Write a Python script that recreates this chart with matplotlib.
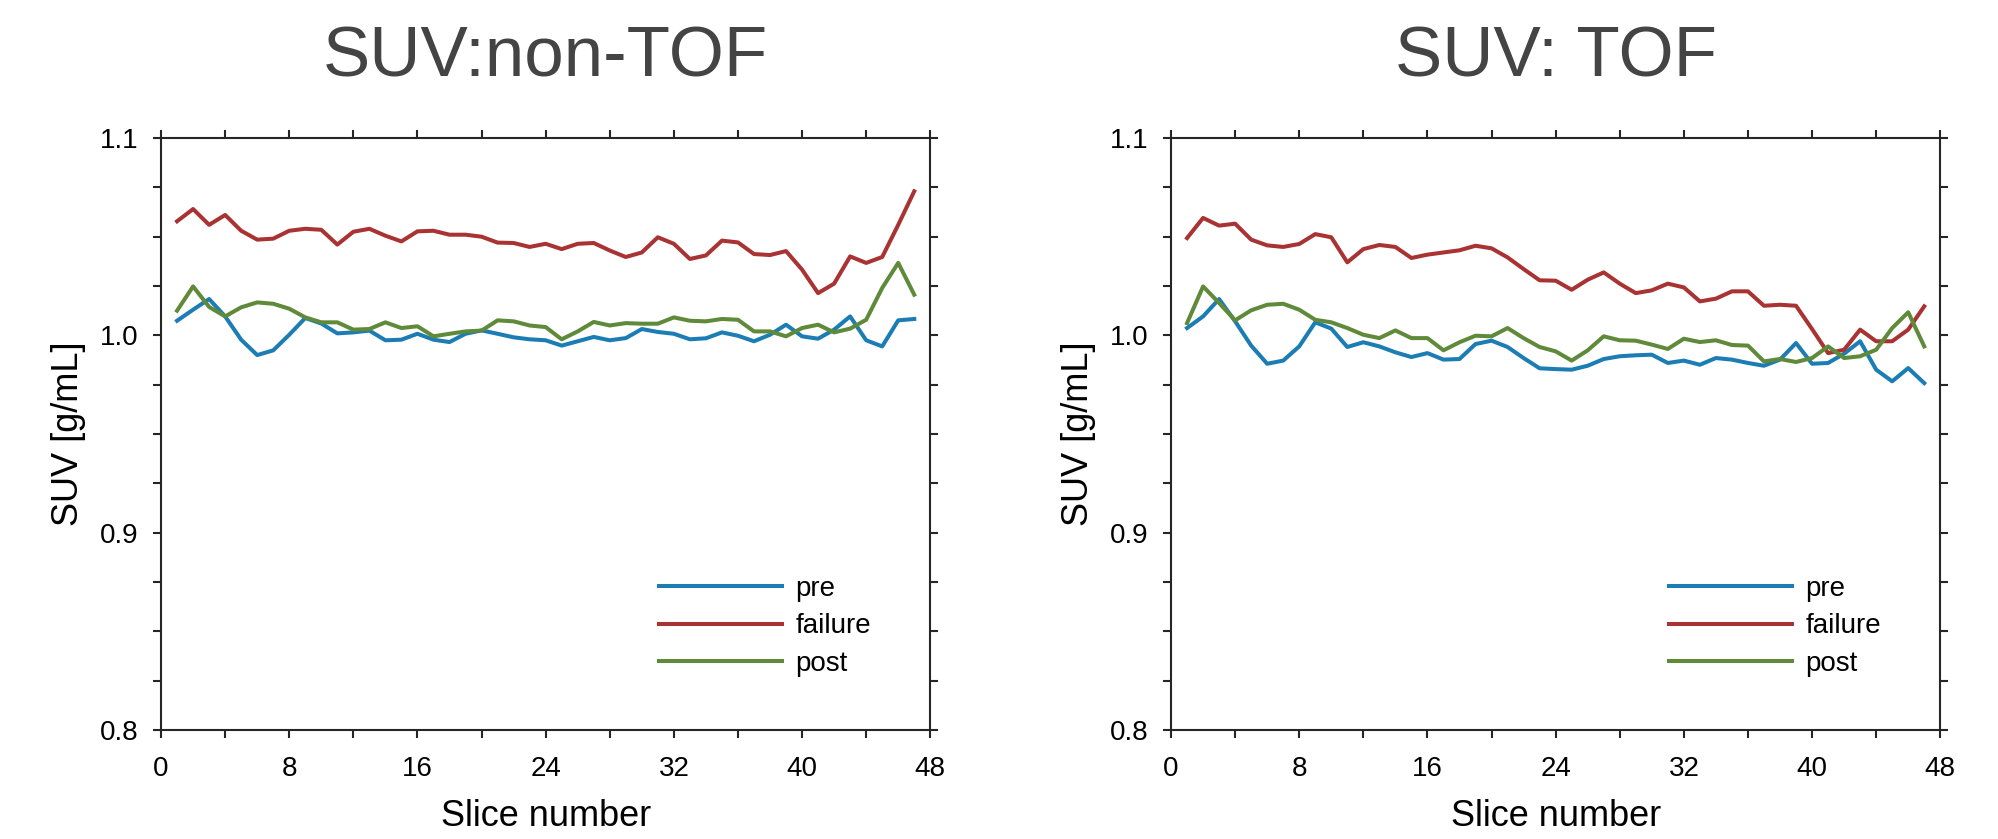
import numpy as np
import matplotlib
matplotlib.use("Agg")
import matplotlib.pyplot as plt
from matplotlib.ticker import MultipleLocator

# valores (fatia 1..47)
slices = np.arange(1, 48)

pre_ntof = [1.0074, 1.013, 1.0184, 1.0096, 0.9978, 0.990, 0.9924, 1.0003, 1.0088, 1.006,
            1.001, 1.0015, 1.0024, 0.9975, 0.9978, 1.0008, 0.9978, 0.9966, 1.0008, 1.0025,
            1.0008, 0.999, 0.998, 0.9975, 0.9948, 0.997, 0.9992, 0.9975, 0.9986, 1.0032,
            1.0017, 1.0008, 0.998, 0.9985, 1.0015, 0.9998, 0.997, 1.0003, 1.0054, 0.9995,
            0.9983, 1.0029, 1.0096, 0.9975, 0.9944, 1.0076, 1.0083]
failure_ntof = [1.0578, 1.064, 1.056, 1.061, 1.053, 1.0485, 1.049, 1.053, 1.054, 1.0535,
                1.046, 1.0525, 1.054, 1.0505, 1.0476, 1.0527, 1.053, 1.051, 1.051, 1.050,
                1.047, 1.0468, 1.0448, 1.0464, 1.0437, 1.0464, 1.0468, 1.043, 1.0397, 1.042,
                1.0497, 1.0464, 1.0387, 1.0405, 1.048, 1.0471, 1.0412, 1.0407, 1.0427, 1.0333,
                1.0214, 1.0262, 1.040, 1.0367, 1.0397, 1.056, 1.073]
post_ntof = [1.0125, 1.0248, 1.0144, 1.0096, 1.0142, 1.0167, 1.016, 1.0135, 1.0091, 1.0066,
             1.0066, 1.0029, 1.0032, 1.0066, 1.0037, 1.0046, 0.9995, 1.0008, 1.002, 1.0024,
             1.0076, 1.0071, 1.005, 1.0042, 0.998, 1.002, 1.0068, 1.005, 1.0062, 1.0059,
             1.0059, 1.0091, 1.0074, 1.0071, 1.0083, 1.0079, 1.002, 1.002, 0.9995, 1.0037,
             1.0054, 1.0015, 1.0034, 1.0079, 1.024, 1.0367, 1.0206]

pre_tof = [1.0037, 1.0096, 1.0184, 1.0071, 0.9948, 0.9856, 0.9872, 0.9944, 1.0066, 1.0034,
           0.9941, 0.9965, 0.9944, 0.9914, 0.989, 0.991, 0.9877, 0.988, 0.9956, 0.9973,
           0.9941, 0.9885, 0.9833, 0.9829, 0.9826, 0.9846, 0.988, 0.9894, 0.9899, 0.9902,
           0.986, 0.9872, 0.9851, 0.9885, 0.9877, 0.986, 0.9846, 0.9877, 0.9961, 0.9856,
           0.986, 0.9907, 0.997, 0.9826, 0.9767, 0.9834, 0.9758]
failure_tof = [1.0493, 1.0595, 1.0556, 1.0566, 1.0485, 1.0456, 1.0448, 1.0463, 1.0513, 1.0497,
               1.037, 1.0437, 1.0458, 1.0448, 1.0392, 1.0409, 1.042, 1.0431, 1.0454, 1.0441,
               1.0395, 1.0336, 1.0279, 1.0277, 1.0231, 1.0282, 1.0319, 1.0262, 1.0214, 1.0228,
               1.0262, 1.0243, 1.0172, 1.0186, 1.0223, 1.0223, 1.015, 1.0155, 1.015, 1.0032,
               0.991, 0.9927, 1.0029, 0.997, 0.997, 1.0029, 1.0147]
post_tof = [1.0062, 1.0248, 1.0164, 1.0076, 1.0127, 1.0155, 1.016, 1.013, 1.0079, 1.0066,
            1.0037, 1.0003, 0.9986, 1.0025, 0.9986, 0.9986, 0.9924, 0.9965, 0.9998, 0.9995,
            1.0037, 0.9986, 0.9941, 0.9919, 0.9872, 0.9924, 0.9995, 0.9975, 0.9973, 0.9953,
            0.9931, 0.9983, 0.9966, 0.9975, 0.9951, 0.9948, 0.9868, 0.988, 0.9865, 0.9885,
            0.9944, 0.9885, 0.9894, 0.9927, 1.0037, 1.0117, 0.9944]

labels = ["pre", "failure", "post"]
cores = ["#1b7db3", "#a93333", "#5f8a3a"]
titulos = ["SUV:non-TOF", "SUV: TOF"]

plt.rcParams['font.family'] = ['Liberation Sans', 'DejaVu Sans']

fig = plt.figure(figsize=(19.98, 8.39), dpi=100)
ax1 = fig.add_axes([0.0806, 0.1299, 0.3850, 0.7056])
ax2 = fig.add_axes([0.5861, 0.1299, 0.3850, 0.7056])

dados = [[pre_ntof, failure_ntof, post_ntof], [pre_tof, failure_tof, post_tof]]

for ax, series, titulo in zip([ax1, ax2], dados, titulos):
    for y, lab, c in zip(series, labels, cores):
        ax.plot(slices, y, color=c, lw=2.9, label=lab)

    ax.set_xlim(0, 48)
    ax.set_ylim(0.8, 1.1)
    ax.xaxis.set_major_locator(MultipleLocator(8))
    ax.xaxis.set_minor_locator(MultipleLocator(4))
    ax.yaxis.set_major_locator(MultipleLocator(0.1))
    ax.yaxis.set_minor_locator(MultipleLocator(0.025))
    ax.set_yticklabels([f"{v:.1f}" for v in ax.get_yticks()])

    for s in ax.spines.values():
        s.set_linewidth(1.5)
        s.set_color("#262626")
    ax.tick_params(which='both', direction='out', top=True, right=True,
                   length=6, width=1.5, color="#262626", labelsize=20)
    ax.tick_params(axis='x', pad=13)
    ax.tick_params(axis='y', pad=10)

    ax.set_xlabel("Slice number", fontsize=26, labelpad=12)
    ax.set_ylabel("SUV [g/mL]", fontsize=26, labelpad=10)
    ax.set_title(titulo, fontsize=51, color="#444444", pad=44)

    ax.legend(loc='center left', bbox_to_anchor=(0.648, 0.175), frameon=False,
              fontsize=20, handlelength=4.4, handletextpad=0.5, labelspacing=0.42,
              borderpad=0, borderaxespad=0)

fig.savefig("out.png", dpi=100)
